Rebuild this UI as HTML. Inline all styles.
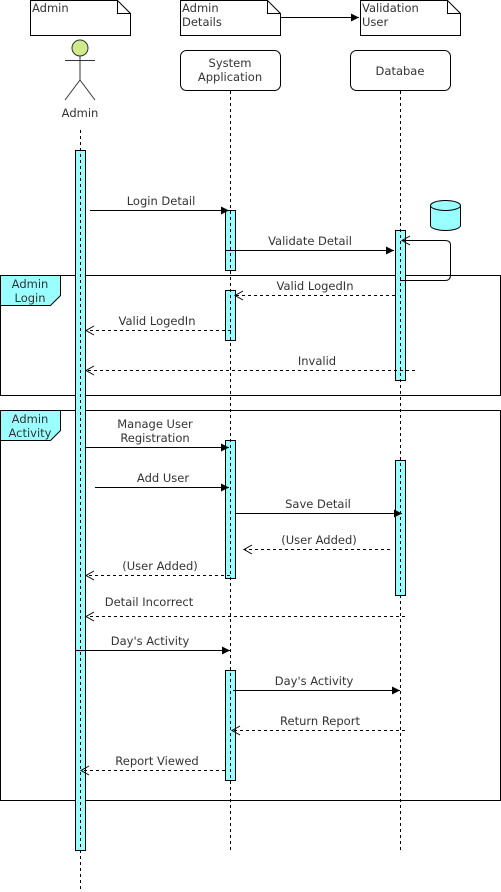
<!DOCTYPE html>
<html><head><meta charset="utf-8"><style>
html,body{margin:0;padding:0;background:#fff;}
svg{display:block;}
text{font-family:"DejaVu Sans","Liberation Sans",sans-serif;font-size:11.5px;fill:#333;}
</style></head><body>
<svg width="501" height="892" viewBox="0 0 501 892" xmlns="http://www.w3.org/2000/svg">
<defs>
<marker id="f" markerWidth="10" markerHeight="10" refX="9" refY="5" orient="auto" markerUnits="userSpaceOnUse"><path d="M1,1 L9,5 L1,9 Z" fill="#000"/></marker>
<marker id="o" markerWidth="12" markerHeight="12" refX="10" refY="6" orient="auto" markerUnits="userSpaceOnUse"><path d="M2,1.5 L10,6 L2,10.5" fill="none" stroke="#000" stroke-dasharray="none"/></marker>
</defs>
<!-- notes -->
<g fill="#fff" stroke="#000">
<path d="M30.5 0.5H117.5L130.5 13.5V35.5H30.5Z"/><path d="M117.5 0.5V13.5H130.5" fill="none"/>
<path d="M180.5 0.5H267.5L280.5 13.5V35.5H180.5Z"/><path d="M267.5 0.5V13.5H280.5" fill="none"/>
<path d="M360.5 0.5H447.5L460.5 13.5V35.5H360.5Z"/><path d="M447.5 0.5V13.5H460.5" fill="none"/>
</g>
<text x="32" y="12">Admin</text>
<text x="182" y="12">Admin</text><text x="182" y="26">Details</text>
<text x="362" y="12">Validation</text><text x="362" y="26">User</text>
<line x1="281" y1="17.5" x2="359" y2="17.5" stroke="#000" marker-end="url(#f)"/>
<!-- actor -->
<circle cx="80" cy="48" r="8" fill="#cdeb8b" stroke="#333"/>
<g stroke="#333" fill="none"><path d="M80 56V80M65 60.5H95M80 80L65 100M80 80L95 100"/></g>
<text x="80" y="117" text-anchor="middle">Admin</text>
<!-- boxes -->
<rect x="180.5" y="50.5" width="100" height="40" rx="6" fill="#fff" stroke="#000"/>
<text x="230" y="67" text-anchor="middle">System</text><text x="230" y="81" text-anchor="middle">Application</text>
<rect x="350.5" y="50.5" width="100" height="40" rx="6" fill="#fff" stroke="#000"/>
<text x="400" y="75" text-anchor="middle">Databae</text>
<!-- frames -->
<rect x="0.5" y="275.5" width="500" height="120" fill="none" stroke="#000"/>
<path d="M0.5 275.5H60.5V295.5L50.5 305.5H0.5Z" fill="#99ffff" stroke="#000"/>
<text x="30" y="288" text-anchor="middle">Admin</text><text x="30" y="302" text-anchor="middle">Login</text>
<rect x="0.5" y="410.5" width="500" height="390" fill="none" stroke="#000"/>
<path d="M0.5 410.5H60.5V430.5L50.5 440.5H0.5Z" fill="#99ffff" stroke="#000"/>
<text x="30" y="423" text-anchor="middle">Admin</text><text x="30" y="437" text-anchor="middle">Activity</text>
<!-- activations -->
<g fill="#99ffff" stroke="#000">
<rect x="75.5" y="150.5" width="10" height="700"/>
<rect x="225.5" y="210.5" width="10" height="60"/>
<rect x="225.5" y="290.5" width="10" height="50"/>
<rect x="395.5" y="230.5" width="10" height="150"/>
<rect x="225.5" y="440.5" width="10" height="138"/>
<rect x="395.5" y="460.5" width="10" height="135"/>
<rect x="225.5" y="670.5" width="10" height="110"/>
</g>
<!-- lifelines -->
<g stroke="#000" stroke-dasharray="3,3">
<line x1="80.5" y1="130" x2="80.5" y2="890"/>
<line x1="230.5" y1="91" x2="230.5" y2="850"/>
<line x1="400.5" y1="91" x2="400.5" y2="850"/>
</g>
<!-- cylinder -->
<g fill="#99ffff" stroke="#000">
<path d="M430.5 205.5V225.5A15 5 0 0 0 460.5 225.5V205.5"/>
<ellipse cx="445.5" cy="205.5" rx="15" ry="5"/>
</g>
<!-- solid messages -->
<g stroke="#000" fill="none">
<line x1="90" y1="210.5" x2="229" y2="210.5" marker-end="url(#f)"/>
<line x1="226" y1="250.5" x2="394" y2="250.5" marker-end="url(#f)"/>
<path d="M400 280.5H445Q450.5 280.5 450.5 275V245Q450.5 240.5 445 240.5H402" marker-end="url(#o)"/>
<line x1="85" y1="447.5" x2="229" y2="447.5" marker-end="url(#f)"/>
<line x1="95" y1="487.5" x2="229" y2="487.5" marker-end="url(#f)"/>
<line x1="235" y1="513.5" x2="402" y2="513.5" marker-end="url(#f)"/>
<line x1="75" y1="650.5" x2="230" y2="650.5" marker-end="url(#f)"/>
<line x1="233" y1="690.5" x2="400" y2="690.5" marker-end="url(#f)"/>
</g>
<!-- dashed returns -->
<g stroke="#000" fill="none" stroke-dasharray="3,3">
<line x1="395" y1="295.5" x2="235" y2="295.5" marker-end="url(#o)"/>
<line x1="231" y1="330.5" x2="86" y2="330.5" marker-end="url(#o)"/>
<line x1="415" y1="370.5" x2="86" y2="370.5" marker-end="url(#o)"/>
<line x1="390" y1="549.5" x2="244" y2="549.5" marker-end="url(#o)"/>
<line x1="230" y1="575.5" x2="86" y2="575.5" marker-end="url(#o)"/>
<line x1="405" y1="616.5" x2="86" y2="616.5" marker-end="url(#o)"/>
<line x1="405" y1="730.5" x2="232" y2="730.5" marker-end="url(#o)"/>
<line x1="225" y1="770.5" x2="81" y2="770.5" marker-end="url(#o)"/>
</g>
<!-- labels -->
<g text-anchor="middle">
<text x="161" y="205">Login Detail</text>
<text x="310" y="245">Validate Detail</text>
<text x="315" y="290">Valid LogedIn</text>
<text x="157" y="325">Valid LogedIn</text>
<text x="317" y="365">Invalid</text>
<text x="155" y="428">Manage User</text>
<text x="155" y="442">Registration</text>
<text x="163" y="482">Add User</text>
<text x="318" y="508">Save Detail</text>
<text x="319" y="544">(User Added)</text>
<text x="160" y="570">(User Added)</text>
<text x="149" y="606">Detail Incorrect</text>
<text x="150" y="645">Day's Activity</text>
<text x="314" y="685">Day's Activity</text>
<text x="320" y="725">Return Report</text>
<text x="157" y="765">Report Viewed</text>
</g>
</svg>
</body></html>
